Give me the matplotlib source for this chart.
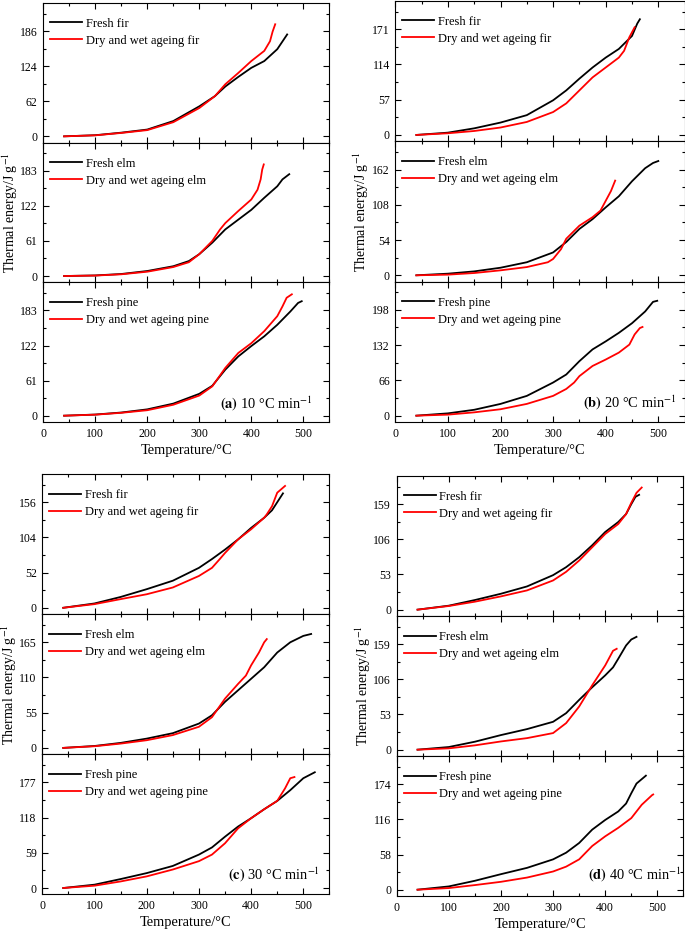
import matplotlib
matplotlib.use("Agg")
import matplotlib.pyplot as plt
from matplotlib.ticker import MultipleLocator

plt.rcParams['font.family'] = ['Liberation Serif', 'DejaVu Serif']
plt.rcParams['mathtext.fontset'] = 'stix'

# ---- data: (a) 10 °C/min ----
a_fir_fresh_t = [40, 100, 150, 200, 250, 300, 330, 350, 375, 400, 425, 450, 469]
a_fir_fresh_e = [0, 2, 6.5, 12, 27, 53, 71, 88, 105, 121, 133, 154, 180]
a_fir_aged_t = [40, 100, 150, 200, 250, 300, 330, 350, 375, 400, 425, 436, 441, 446]
a_fir_aged_e = [0, 1.8, 6, 11, 25, 50, 71, 92, 112, 133, 151, 168, 185, 198]
a_elm_fresh_t = [40, 100, 150, 200, 250, 280, 300, 325, 350, 375, 400, 425, 450, 460, 473]
a_elm_fresh_e = [0, 1, 3.5, 8.7, 17, 26, 38, 58, 81, 98, 115, 136, 156, 168, 177]
a_elm_aged_t = [40, 100, 150, 200, 250, 280, 300, 325, 340, 350, 375, 400, 412, 418, 421, 424]
a_elm_aged_e = [0, 0.8, 3, 7.5, 15.6, 24, 38, 61, 81, 92, 113, 133, 150, 168, 185, 194]
a_pine_fresh_t = [40, 100, 150, 200, 250, 300, 325, 350, 375, 400, 425, 450, 475, 490, 497]
a_pine_fresh_e = [0, 2, 5.5, 11, 21, 38, 52, 80, 103, 121, 138, 158, 181, 196, 199]
a_pine_aged_t = [40, 100, 150, 200, 250, 300, 325, 350, 375, 400, 425, 450, 460, 468, 478]
a_pine_aged_e = [0, 1.8, 5, 9.5, 19, 35, 51, 83, 109, 126, 147, 173, 190, 205, 211]

# ---- data: (b) 20 °C/min ----
b_fir_fresh_t = [40, 100, 150, 200, 250, 300, 325, 350, 375, 400, 425, 450, 460, 465]
b_fir_fresh_e = [0, 3.7, 10.7, 20, 32, 56, 72, 91, 109, 125, 139, 160, 180, 187]
b_fir_aged_t = [40, 100, 150, 200, 250, 300, 325, 350, 375, 400, 425, 435, 445, 455]
b_fir_aged_e = [0, 2.7, 6.4, 12, 21, 37, 51, 72, 93, 109, 125, 136, 158, 174]
b_elm_fresh_t = [40, 100, 150, 200, 250, 300, 325, 350, 375, 400, 425, 450, 475, 490, 500]
b_elm_fresh_e = [0, 2.5, 6, 11.6, 20, 35, 51, 71, 86, 104, 121, 144, 164, 172, 175]
b_elm_aged_t = [40, 100, 150, 200, 250, 290, 300, 315, 325, 340, 350, 375, 390, 400, 410, 418]
b_elm_aged_e = [0, 1, 3.5, 7.6, 12.6, 20, 25, 40, 56, 68, 76, 89, 99, 114, 129, 145]
b_pine_fresh_t = [40, 100, 150, 200, 250, 300, 325, 350, 375, 400, 425, 450, 475, 490, 498]
b_pine_fresh_e = [0, 4.3, 11, 22, 37, 62, 77, 102, 124, 139, 155, 173, 195, 213, 215]
b_pine_aged_t = [40, 100, 150, 200, 250, 300, 325, 340, 350, 375, 400, 425, 445, 455, 465, 470]
b_pine_aged_e = [0, 1.9, 6.2, 12, 22, 37, 50, 62, 74, 93, 105, 118, 133, 152, 164, 166]

# ---- data: (c) 30 °C/min ----
c_fir_fresh_t = [40, 100, 150, 200, 250, 300, 325, 350, 375, 400, 425, 440, 461]
c_fir_fresh_e = [0, 6.4, 16, 27.5, 40, 59, 72, 86, 101, 118, 133, 144, 169]
c_fir_aged_t = [40, 100, 150, 200, 250, 300, 325, 340, 350, 375, 400, 425, 430, 440, 450, 465]
c_fir_aged_e = [0, 5.4, 12.8, 20, 30, 47, 59, 72, 81, 101, 116, 133, 138, 150, 170, 180]
c_elm_fresh_t = [40, 100, 150, 200, 250, 300, 325, 350, 375, 400, 425, 450, 475, 500, 515]
c_elm_fresh_e = [0, 3, 7.8, 14.5, 23, 38, 51, 72, 90, 108, 126, 149, 165, 175, 178]
c_elm_aged_t = [40, 100, 150, 200, 250, 300, 325, 350, 375, 390, 400, 415, 425, 430]
c_elm_aged_e = [0, 2.6, 6.7, 12, 20, 33, 48, 77, 100, 113, 129, 149, 165, 170]
c_pine_fresh_t = [40, 100, 150, 200, 250, 300, 325, 350, 375, 400, 425, 450, 475, 500, 522]
c_pine_fresh_e = [0, 5.6, 15, 25, 37, 56, 68, 86, 103, 117, 132, 146, 164, 184, 194]
c_pine_aged_t = [40, 100, 150, 200, 250, 300, 325, 350, 375, 400, 425, 450, 465, 475, 483]
c_pine_aged_e = [0, 3.9, 11, 19.5, 31, 45, 56, 75, 100, 117, 132, 146, 167, 184, 186]

# ---- data: (d) 40 °C/min ----
d_fir_fresh_t = [40, 100, 150, 200, 250, 300, 325, 350, 375, 400, 425, 440, 450, 458, 465]
d_fir_fresh_e = [0, 6, 14.5, 24, 35, 52, 64, 79, 97, 117, 132, 144, 159, 170, 173]
d_fir_aged_t = [40, 100, 150, 200, 250, 300, 325, 350, 375, 400, 425, 440, 450, 460, 470]
d_fir_aged_e = [0, 5.5, 12, 20, 29, 44, 57, 74, 94, 114, 129, 144, 161, 176, 184]
d_elm_fresh_t = [40, 100, 150, 200, 250, 300, 325, 350, 375, 400, 415, 425, 440, 450, 460]
d_elm_fresh_e = [0, 4, 12, 22, 31, 42, 55, 75, 94, 112, 124, 137, 157, 166, 170]
d_elm_aged_t = [40, 100, 150, 200, 250, 300, 325, 350, 375, 400, 415, 422]
d_elm_aged_e = [0, 2, 6.5, 12.4, 17.4, 25, 40, 65, 97, 127, 149, 152]
d_pine_fresh_t = [40, 100, 150, 200, 250, 300, 325, 350, 375, 400, 425, 440, 450, 460, 478]
d_pine_fresh_e = [0, 5.4, 14.7, 25.6, 36, 50, 61, 77, 99, 115, 129, 142, 159, 175, 188]
d_pine_aged_t = [40, 100, 150, 200, 250, 300, 325, 350, 375, 400, 425, 450, 470, 490, 492]
d_pine_aged_e = [0, 2.7, 7.6, 13, 20, 30, 38, 50, 72, 88, 102, 118, 140, 156, 157]

woods = ["fir", "elm", "pine"]
tick_steps = {"a": [62, 61, 61], "b": [57, 54, 66], "c": [52, 55, 59], "d": [53, 53, 58]}
rates = {"a": "10", "b": "20", "c": "30", "d": "40"}

curves = {
    "a": [(a_fir_fresh_t, a_fir_fresh_e, a_fir_aged_t, a_fir_aged_e),
          (a_elm_fresh_t, a_elm_fresh_e, a_elm_aged_t, a_elm_aged_e),
          (a_pine_fresh_t, a_pine_fresh_e, a_pine_aged_t, a_pine_aged_e)],
    "b": [(b_fir_fresh_t, b_fir_fresh_e, b_fir_aged_t, b_fir_aged_e),
          (b_elm_fresh_t, b_elm_fresh_e, b_elm_aged_t, b_elm_aged_e),
          (b_pine_fresh_t, b_pine_fresh_e, b_pine_aged_t, b_pine_aged_e)],
    "c": [(c_fir_fresh_t, c_fir_fresh_e, c_fir_aged_t, c_fir_aged_e),
          (c_elm_fresh_t, c_elm_fresh_e, c_elm_aged_t, c_elm_aged_e),
          (c_pine_fresh_t, c_pine_fresh_e, c_pine_aged_t, c_pine_aged_e)],
    "d": [(d_fir_fresh_t, d_fir_fresh_e, d_fir_aged_t, d_fir_aged_e),
          (d_elm_fresh_t, d_elm_fresh_e, d_elm_aged_t, d_elm_aged_e),
          (d_pine_fresh_t, d_pine_fresh_e, d_pine_aged_t, d_pine_aged_e)],
}

# panel rectangles (left, bottom, width, height) in figure fraction
panel_rects = {
    "a": (0.0632, 0.5472, 0.4175, 0.4496),
    "b": (0.5771, 0.5472, 0.4223, 0.4518),
    "c": (0.0618, 0.0404, 0.4191, 0.4510),
    "d": (0.5791, 0.0386, 0.4186, 0.4507),
}
note_pos = {"a": (0.943, 0.134), "b": (0.973, 0.134), "c": (0.968, 0.143), "d": (0.994, 0.155)}

fig = plt.figure(figsize=(6.85, 9.32), dpi=100)

for key in ["a", "b", "c", "d"]:
    left, bottom, width, height = panel_rects[key]
    h = height / 3
    for i, wood in enumerate(woods):
        ax = fig.add_axes([left, bottom + (2 - i) * h, width, h])
        ft, fe, at, ae = curves[key][i]
        ax.plot(ft, fe, color="black", lw=1.3, label="Fresh " + wood)
        ax.plot(at, ae, color="red", lw=1.3, label="Dry and wet ageing " + wood)
        step = tick_steps[key][i]
        ax.set_xlim(0, 550)
        ax.set_ylim(-0.18 * step, 3.8 * step)
        ax.yaxis.set_major_locator(MultipleLocator(step))
        ax.yaxis.set_minor_locator(MultipleLocator(step / 2))
        ax.xaxis.set_major_locator(MultipleLocator(100))
        ax.xaxis.set_minor_locator(MultipleLocator(50))
        ax.tick_params(which="both", direction="in", top=True, right=True, labelsize=8.5, width=0.8)
        ax.tick_params(which="major", length=4.5, pad=4)
        ax.tick_params(which="minor", length=2.5)
        for s in ax.spines.values():
            s.set_linewidth(0.8)
        ax.legend(loc="upper left", bbox_to_anchor=(-0.01, 0.965), frameon=False, fontsize=9,
                  handlelength=2.56, handletextpad=0.25, borderpad=0.3, borderaxespad=0.5,
                  labelspacing=0.4)
        if i < 2:
            ax.tick_params(labelbottom=False)
        else:
            ax.set_xlabel("Temperature/°C", fontsize=10.4, labelpad=3)
            nx, ny = note_pos[key]
            ax.text(nx, ny, r"$\mathbf{(" + key + r")}$ " + rates[key] + r" °C min$^{-1}$",
                    transform=ax.transAxes, ha="right", va="center", fontsize=10.4)
        if i == 1:
            ax.set_ylabel(r"Thermal energy/J g$^{-1}$", fontsize=10)
            ax.yaxis.set_label_coords(-0.083, 0.5)

fig.savefig("out.png", dpi=100)
